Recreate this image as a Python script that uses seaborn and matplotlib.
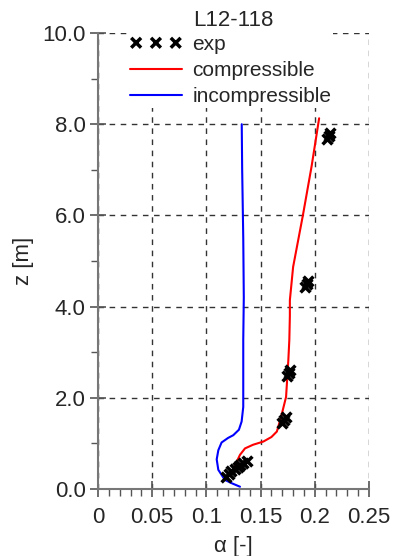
import numpy as np
import pandas as pd
import matplotlib
matplotlib.use("Agg")
import matplotlib.pyplot as plt
import seaborn as sns
from matplotlib.ticker import MultipleLocator

sns.set_style("white")
plt.rcParams['font.family'] = ['Liberation Sans', 'DejaVu Sans']

# experimental data (alpha, z)
exp_alpha = [0.118, 0.121, 0.123, 0.126, 0.129, 0.131, 0.134, 0.137,
             0.170, 0.172, 0.173,
             0.174, 0.176, 0.177,
             0.191, 0.193, 0.194,
             0.211, 0.213, 0.214]
exp_z = [0.27, 0.33, 0.39, 0.44, 0.49, 0.53, 0.58, 0.62,
         1.45, 1.52, 1.58,
         2.48, 2.55, 2.60,
         4.42, 4.50, 4.56,
         7.68, 7.75, 7.80]

# compressible model
comp_alpha = [0.123, 0.127, 0.131, 0.1356, 0.143, 0.1525, 0.160, 0.165, 0.169,
              0.1735, 0.1756, 0.1765, 0.177, 0.177, 0.180, 0.189, 0.197, 0.204]
comp_z = [0.34, 0.55, 0.75, 0.89, 0.97, 1.04, 1.14, 1.26, 1.59,
          2.02, 2.83, 3.27, 3.80, 4.14, 4.87, 6.00, 7.07, 8.13]

# incompressible model
inc_alpha = [0.131, 0.124, 0.117, 0.111, 0.1095, 0.111, 0.114, 0.120, 0.1248,
             0.1300, 0.1325, 0.134, 0.134, 0.1345, 0.134, 0.133, 0.1326]
inc_z = [0.05, 0.12, 0.20, 0.42, 0.65, 0.85, 1.02, 1.12, 1.18,
         1.30, 1.48, 1.80, 3.27, 4.20, 5.50, 7.00, 8.00]

x_ticks = [0, 0.05, 0.1, 0.15, 0.2, 0.25]
x_labels = ["0", "0.05", "0.1", "0.15", "0.2", "0.25"]
y_ticks = [0, 2, 4, 6, 8, 10]
y_labels = ["0.0", "2.0", "4.0", "6.0", "8.0", "10.0"]

FS = 16
LFS = 15

fig = plt.figure(figsize=(3.93, 5.56), dpi=100)
ax = fig.add_axes([98/393, 1-489/556, (369-98)/393, (489-33)/556])

df_exp = pd.DataFrame({"alpha": exp_alpha, "z": exp_z})
df_c = pd.DataFrame({"alpha": comp_alpha, "z": comp_z})
df_i = pd.DataFrame({"alpha": inc_alpha, "z": inc_z})

sns.lineplot(data=df_c, x="alpha", y="z", sort=False, estimator=None, color="red",
             lw=1.5, ax=ax, label="compressible", zorder=3)
sns.lineplot(data=df_i, x="alpha", y="z", sort=False, estimator=None, color="blue",
             lw=1.5, ax=ax, label="incompressible", zorder=3)
sns.scatterplot(data=df_exp, x="alpha", y="z", marker="x", color="black", s=50,
                linewidth=2.5, ax=ax, label="exp", zorder=4)

ax.set_xlim(0, 0.25)
ax.set_ylim(0, 10)
ax.set_xticks(x_ticks)
ax.set_xticklabels(x_labels)
ax.set_yticks(y_ticks)
ax.set_yticklabels(y_labels)
ax.xaxis.set_minor_locator(MultipleLocator(0.01))
ax.yaxis.set_minor_locator(MultipleLocator(1.0))

ax.grid(True, which="major", color="#333333", linestyle=(0, (4, 4)), lw=1.0)
ax.set_axisbelow(True)
for s in ["top", "right"]:
    ax.spines[s].set_visible(False)
for s in ["left", "bottom"]:
    ax.spines[s].set_color("#777777")
    ax.spines[s].set_linewidth(1.5)
    ax.spines[s].set_zorder(5)

ax.tick_params(axis="both", which="major", direction="inout", length=12, width=1.2,
               color="#555555", labelsize=FS, pad=3)
ax.tick_params(axis="x", which="major", pad=7)
ax.tick_params(axis="both", which="minor", direction="out", length=5, width=1.0,
               color="#555555")
ax.tick_params(left=True, bottom=True, which="both")

ax.set_xlabel("α [-]", fontsize=FS, labelpad=6)
ax.set_ylabel("z [m]", fontsize=FS, labelpad=6)
ax.set_title("L12-118", fontsize=FS, pad=5)

h, l = ax.get_legend_handles_labels()
order = [l.index("exp"), l.index("compressible"), l.index("incompressible")]
leg = ax.legend([h[i] for i in order], [l[i] for i in order], loc="upper left",
                bbox_to_anchor=(0.11, 1.0), fontsize=LFS, frameon=True,
                facecolor="white", edgecolor="none", framealpha=1.0,
                scatterpoints=3, scatteryoffsets=[0.5], handlelength=2.5,
                handletextpad=0.5, labelspacing=0.33, borderpad=0.1,
                borderaxespad=0)
leg.get_frame().set_boxstyle("square", pad=0)
leg.set_zorder(6)

fig.savefig("out.png", dpi=100)
